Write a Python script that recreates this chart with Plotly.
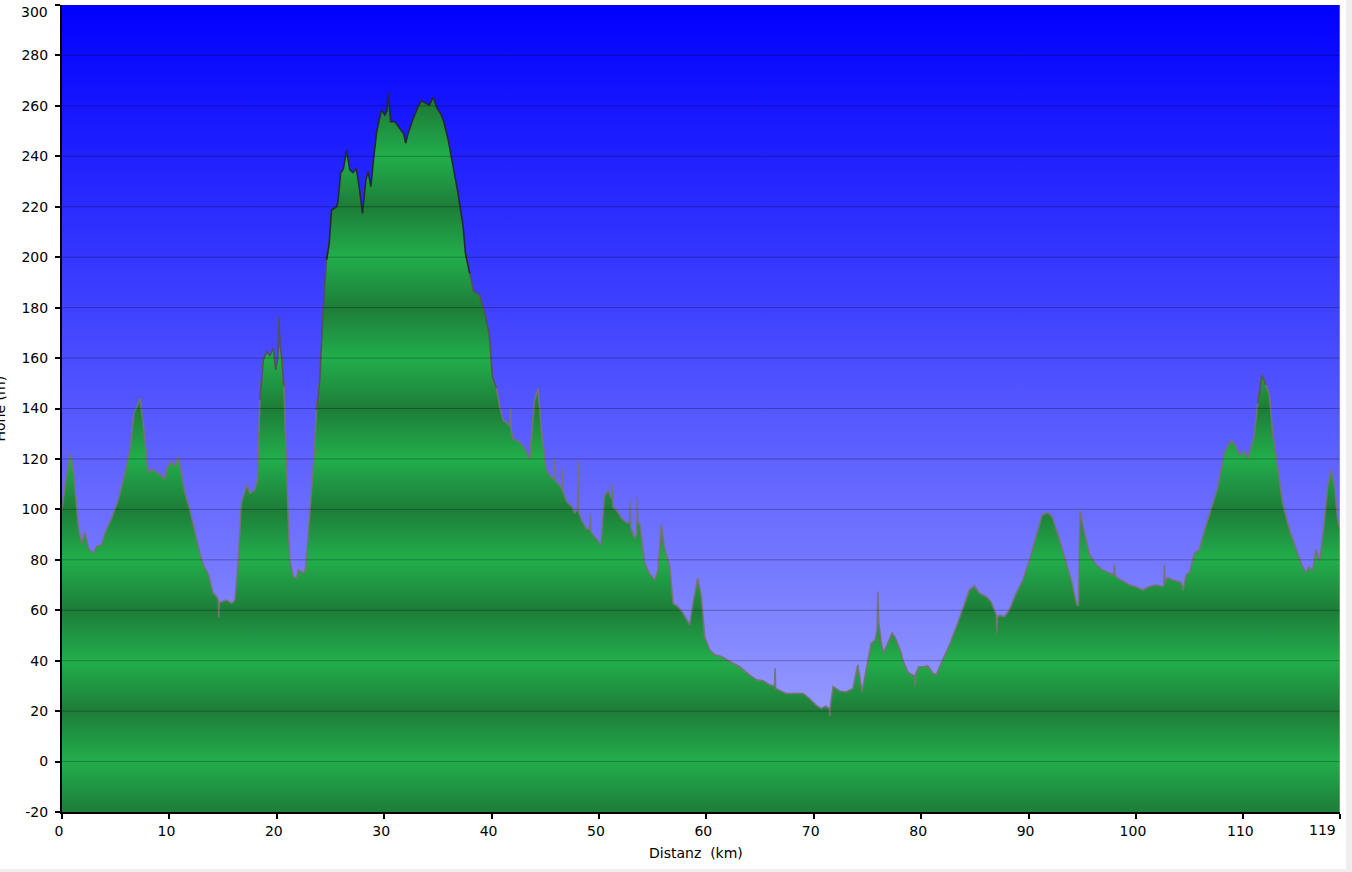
import numpy as np
import plotly.graph_objects as go

# ---------------- data ----------------
KM = [0.0, 0.3, 0.74, 1.0, 1.2, 1.52, 1.83, 2.14, 2.45, 2.92, 3.23, 3.69, 4.0, 4.62, 5.24, 5.86,
      6.33, 6.7, 7.0, 7.26, 7.57, 8.03, 8.3, 8.65, 9.1, 9.59, 9.74, 10.2, 10.5, 10.83, 11.14, 11.45,
      11.9, 12.38, 12.84, 13.15, 13.6, 14.08, 14.4, 14.55, 14.6, 14.65, 14.86, 15.3, 15.8, 16.1,
      16.4, 16.7, 17.2, 17.5, 17.96, 18.2, 18.43, 18.74, 19.05, 19.36, 19.67, 19.9, 20.1, 20.2,
      20.3, 20.45, 20.66, 20.9, 21.2, 21.53, 21.84, 22.0, 22.5, 22.7, 23.08, 23.4, 23.7, 24.0,
      24.3, 24.63, 24.88, 25.1, 25.57, 25.7, 25.94, 26.2, 26.5, 26.8, 27.1, 27.4, 27.67, 27.98,
      28.3, 28.5, 28.76, 28.97, 29.28, 29.53, 29.75, 30.06, 30.25, 30.37, 30.5, 30.6, 31.0, 31.46,
      31.8, 32.0, 32.23, 32.7, 33.16, 33.48, 33.9, 34.2, 34.56, 34.93, 35.25, 35.55, 35.96, 36.4,
      36.88, 37.35, 37.57, 37.97, 38.34, 38.9, 39.37, 39.77, 40.08, 40.46, 40.76, 41.07, 41.5,
      41.7, 41.76, 41.82, 42.0, 42.62, 43.09, 43.55, 44.0, 44.33, 44.64, 45.1, 45.5, 45.85, 45.9,
      45.95, 46.2, 46.55, 46.6, 46.65, 47.0, 47.5, 47.74, 48.0, 48.05, 48.1, 48.37, 48.8, 49.15,
      49.2, 49.25, 49.6, 50.2, 50.5, 50.85, 51.2, 51.25, 51.3, 51.6, 52.1, 52.6, 52.85, 52.9,
      52.95, 53.3, 53.52, 53.57, 53.62, 53.8, 54.26, 54.7, 55.2, 55.5, 55.8, 56.1, 56.6, 56.9,
      57.36, 57.8, 58.45, 58.75, 59.2, 59.53, 59.84, 60.3, 60.77, 61.4, 62.2, 63.1, 64.0, 64.65,
      65.3, 65.9, 66.35, 66.4, 66.45, 66.7, 67.4, 68.3, 69.0, 69.6, 70.2, 70.7, 71.1, 71.45, 71.5,
      71.55, 71.8, 72.4, 73.0, 73.65, 74.1, 74.5, 74.9, 75.35, 75.7, 75.9, 75.97, 76.05, 76.3,
      76.5, 76.9, 77.3, 77.6, 78.1, 78.3, 78.76, 79.1, 79.4, 79.45, 79.5, 79.8, 80.3, 80.6, 81.1,
      81.4, 81.9, 82.7, 83.4, 84.04, 84.5, 84.97, 85.43, 86.06, 86.5, 86.9, 87.0, 87.05, 87.1,
      87.3, 87.76, 88.2, 88.85, 89.47, 90.1, 90.7, 91.27, 91.8, 92.2, 92.7, 93.34, 93.97, 94.5,
      94.65, 94.8, 95.2, 95.7, 96.3, 96.9, 97.53, 97.95, 98.0, 98.05, 98.3, 98.9, 99.4, 100.0,
      100.6, 101.2, 101.9, 102.5, 102.6, 102.65, 102.7, 102.96, 103.4, 104.2, 104.4, 104.67, 105.0,
      105.45, 105.9, 106.4, 107.0, 107.6, 107.93, 108.24, 108.55, 108.9, 109.3, 109.63, 110.1,
      110.4, 110.72, 111.0, 111.34, 111.74, 112.1, 112.4, 112.74, 113.2, 113.66, 114.3, 114.9,
      115.37, 115.8, 116.1, 116.45, 116.77, 117.1, 117.5, 117.85, 118.16, 118.47, 118.78, 119.0]

HEIGHT = [100, 110, 122, 118, 109, 93, 86.5, 91, 84.6, 82.6, 85.3, 86, 90.5, 96.5, 103.7, 114.3,
          123.6, 138, 141, 144, 134, 114.3, 116, 115, 114, 112, 116, 119, 117, 121, 113, 106.4,
          99.8, 90.5, 82.6, 78, 74.6, 66.7, 65.4, 64, 57, 63, 63.4, 64, 62.7, 64,
          78.6, 102.4, 109.7, 106.4, 107.7, 111.7, 143.4, 159.2, 162.5, 161, 163.9, 155.3, 160, 176.4,
          165, 160.5, 148.7, 117, 80, 73.3, 72.7, 76, 74.6, 77, 97, 117, 139.4, 151,
          177.8, 198.9, 205.5, 218.7, 220, 222, 233.3, 235, 242.2, 234.6, 233.5, 235.2, 228, 217.4,
          230.6, 234, 228, 237.2, 249, 254.4, 258.4, 256.4, 258, 265, 258, 253.7, 253.7, 251,
          249, 245.2, 249.1, 255, 259.7, 262, 261, 260.3, 263.4, 259, 257, 253.7, 246.5, 235.9,
          225.3, 212.1, 201.5, 193.6, 186.3, 185, 177.8, 169.8, 152.6, 148, 140.7, 135.5, 134,
          133, 140, 132, 128, 126.8, 124, 120, 143.4, 148, 131.5, 115.6, 113, 112, 120,
          111, 110.4, 108, 116, 107, 103, 101, 98.4, 100, 119.6, 99, 95.8, 92.5, 92,
          98, 91, 89.2, 85.9, 105, 107.7, 104, 109.7, 101, 99.8, 96.5, 94.5, 95, 103,
          93, 88.6, 90, 104.4, 95, 94, 78.6, 74.6, 72, 76, 93.8, 84.6, 77, 62.7,
          61.4, 59, 54.2, 62.7, 72.7, 65.4, 49.5, 44.3, 42.3, 41.7, 39.6, 37.6, 34.4, 32.4,
          32, 30.4, 30, 37, 29, 28.4, 27, 27, 27, 25, 22.4, 21, 22, 21, 18,
          22, 29.7, 28, 27.6, 29, 38.3, 27.7, 36.4, 46.9, 48, 52, 67.4, 55, 46.9,
          43, 47, 51.1, 49, 43.6, 40, 35.6, 34.5, 34, 29.7, 35, 37.6, 37.6, 38, 35,
          34.4, 39, 46.9, 54.8, 62.7, 68, 69.7, 66.7, 65.4, 63.4, 59, 58, 50.9, 57,
          58, 57.4, 60, 66.7, 72, 79.9, 89.2, 97.8, 98.7, 97, 90.5, 81.2, 72, 62.1,
          62, 99.5, 90.5, 81.8, 78, 76, 74.6, 74, 78, 74, 72.7, 71.3, 70, 69.3,
          68, 69.3, 70, 69.3, 70, 78, 71, 73, 72, 71, 68, 74, 75,
          82.6, 83.9, 91.8, 99.8, 108.4, 115.6, 122.2, 125, 127.5, 125, 121.6, 123,
          120, 124.9, 128.8, 142, 153.3, 149.3, 146, 130.2, 115.6, 102.4, 91.8, 83.9,
          78.6, 75, 77, 76, 83.9, 79, 93, 109, 115.6, 110, 95.8, 92]

X_TICKS = [0, 10, 20, 30, 40, 50, 60, 70, 80, 90, 100, 110, 119]
Y_TICKS = list(range(-20, 301, 20))
X_RANGE = [0, 119]
Y_RANGE = [-20, 300]

X_TITLE = "Distanz\u00a0 (km)"
Y_TITLE = "Höhe (m)"

# ---------------- styling ----------------
FONT = "DejaVu Sans"
BLUE_TOP = "rgb(0,0,255)"
BLUE_BOTTOM = "rgb(168,174,255)"
GREEN_DARK = "rgb(29,125,56)"
GREEN_LIGHT = "rgb(34,174,76)"

W, H = 1346, 869
ML, MR, MT, MB = 62, 6, 5, 57

km = np.array(KM, dtype=float)
hh = np.array(HEIGHT, dtype=float)

fig = go.Figure()

# background gradient
fig.add_trace(go.Scatter(
    x=[X_RANGE[0], X_RANGE[1], X_RANGE[1], X_RANGE[0], X_RANGE[0]],
    y=[Y_RANGE[0], Y_RANGE[0], Y_RANGE[1], Y_RANGE[1], Y_RANGE[0]],
    fill="toself", mode="none",
    fillgradient=dict(type="vertical", start=Y_RANGE[0], stop=Y_RANGE[1],
                      colorscale=[[0, BLUE_BOTTOM], [1, BLUE_TOP]]),
    hoverinfo="skip", showlegend=False))

# baseline for area
fig.add_trace(go.Scatter(x=km, y=np.full_like(hh, Y_RANGE[0]), mode="lines",
                         line=dict(width=0, color="rgba(0,0,0,0)"),
                         hoverinfo="skip", showlegend=False))

# banded green colorscale (period 40 m, dark at 20+40k, light at 40k)
nstops = int((Y_RANGE[1] - Y_RANGE[0]) / 20)
band_scale = [[i / nstops, GREEN_DARK if i % 2 == 0 else GREEN_LIGHT] for i in range(nstops + 1)]

fig.add_trace(go.Scatter(
    x=km, y=hh, mode="lines", fill="tonexty",
    fillgradient=dict(type="vertical", start=Y_RANGE[0], stop=Y_RANGE[1], colorscale=band_scale),
    line=dict(width=0, color="rgba(0,0,0,0)"),
    showlegend=False))

# outline, darker at greater height
levels = [(-100, 150, "rgba(120,115,115,0.95)"), (150, 200, "rgba(85,80,85,0.95)"),
          (200, 400, "rgba(40,38,45,0.95)")]
for lo, hi, col in levels:
    m = (hh >= lo) & (hh < hi)
    md = m.copy()
    md[1:] |= m[:-1]
    md[:-1] |= m[1:]
    yy = np.where(md, hh, np.nan)
    fig.add_trace(go.Scatter(x=km, y=yy, mode="lines", connectgaps=False,
                             line=dict(color=col, width=1.6),
                             hoverinfo="skip", showlegend=False))

# gridlines above the area
for v in Y_TICKS[1:-1]:
    fig.add_shape(type="line", xref="paper", x0=0, x1=1, yref="y", y0=v, y1=v,
                  line=dict(color="rgba(0,0,0,0.28)", width=1), layer="above")

# right edge light line
fig.add_shape(type="line", xref="x", x0=X_RANGE[1], x1=X_RANGE[1], yref="paper", y0=0, y1=1,
              line=dict(color="rgba(120,230,140,0.8)", width=1), layer="above")

tickfont = dict(family=FONT, size=14, color="black")
axis_common = dict(showline=True, linecolor="black", linewidth=2, ticks="outside",
                   ticklen=5, tickwidth=2, tickcolor="black", showgrid=False, zeroline=False,
                   tickfont=tickfont, layer="above traces", ticklabeloverflow="allow")

# edge labels (last x tick, top y tick) are drawn as annotations, shifted inward like the original
x_text = [str(t) for t in X_TICKS[:-1]] + [""]
y_text = [str(t) for t in Y_TICKS[:-1]] + [""]

fig.update_xaxes(range=X_RANGE, tickvals=X_TICKS, ticktext=x_text, ticklabelshift=-3, **axis_common)
fig.update_yaxes(range=Y_RANGE, tickvals=Y_TICKS, ticktext=y_text, ticklabelstandoff=4, **axis_common)

fig.add_annotation(text=str(X_TICKS[-1]), xref="x", yref="paper", x=X_TICKS[-1], y=0,
                   xanchor="right", yanchor="top", xshift=-2, yshift=-8,
                   showarrow=False, font=tickfont)
fig.add_annotation(text=str(Y_TICKS[-1]), xref="paper", yref="y", x=0, y=Y_TICKS[-1],
                   xanchor="right", yanchor="top", xshift=-12, yshift=3,
                   showarrow=False, font=tickfont)

pw = W - ML - MR
ph = H - MT - MB
fig.add_annotation(text=X_TITLE, xref="paper", yref="paper",
                   x=(696 - ML) / pw, y=-(853 - (H - MB)) / ph, xanchor="center", yanchor="middle",
                   showarrow=False, font=dict(family=FONT, size=14, color="black"))
fig.add_annotation(text=Y_TITLE, xref="paper", yref="paper",
                   x=(-1 - ML) / pw, y=0.5, xanchor="center", yanchor="middle", textangle=-90,
                   showarrow=False, font=dict(family=FONT, size=14, color="black"))

fig.update_layout(width=W, height=H, margin=dict(l=ML, r=MR, t=MT, b=MB, pad=0),
                  paper_bgcolor="white", plot_bgcolor="white", showlegend=False,
                  hovermode=False)

fig.write_html("out.html", config={"displayModeBar": False},
               post_script="document.body.style.margin='0';document.body.style.background='#eeeeee';document.body.style.overflow='hidden';")
